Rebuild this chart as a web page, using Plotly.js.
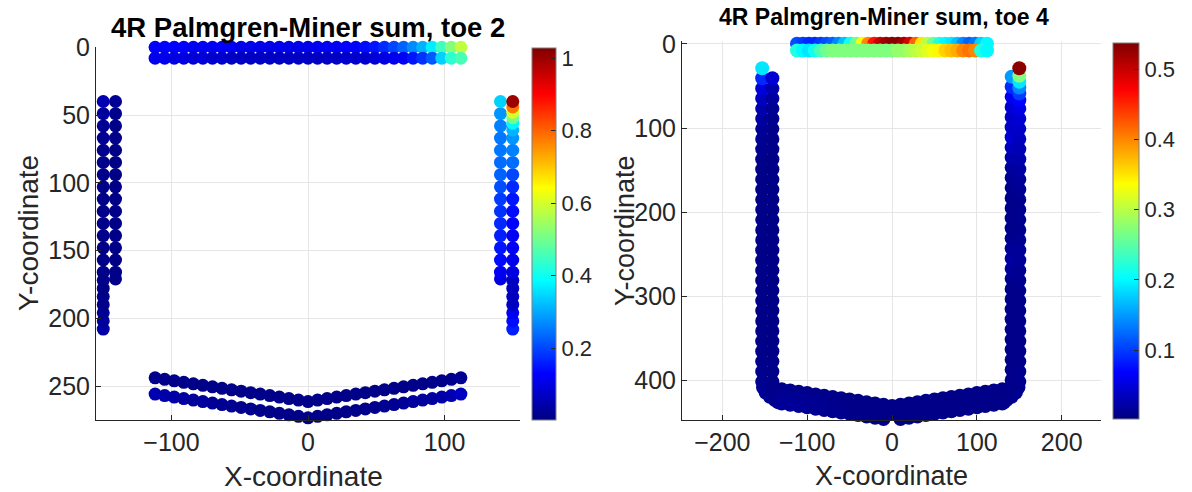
<!DOCTYPE html>
<html><head><meta charset="utf-8">
<script src="https://cdn.plot.ly/plotly-3.0.1.min.js"></script>
<style>html,body{margin:0;padding:0;background:#fff}#chart{width:1192px;height:492px}</style>
</head><body><div id="chart"></div>
<script>
// ---------- shared x positions of the horizontal rows ----------
const rowX = [-112,-105,-98,-91,-84,-77,-70,-63,-56,-49,-42,-35,-28,-21,-14,-7,0,7,14,21,28,35,42,49,56,63,70,77,84,91,98,105,112];
const rowY0 = [0,0,0,0,0,0,0,0,0,0,0,0,0,0,0,0,0,0,0,0,0,0,0,0,0,0,0,0,0,0,0,0,0];
const rowY8 = [8,8,8,8,8,8,8,8,8,8,8,8,8,8,8,8,8,8,8,8,8,8,8,8,8,8,8,8,8,8,8,8,8];

// ---------- toe 2 ----------
const t2TopAC = [0.13,0.13,0.13,0.13,0.12,0.12,0.12,0.12,0.12,0.11,0.11,0.11,0.11,0.11,0.11,0.11,0.11,0.12,0.12,0.12,0.13,0.13,0.14,0.15,0.17,0.2,0.23,0.27,0.31,0.37,0.45,0.52,0.58];
const t2TopBC = [0.11,0.11,0.1,0.1,0.09,0.09,0.08,0.08,0.07,0.07,0.07,0.07,0.07,0.07,0.07,0.07,0.07,0.07,0.07,0.07,0.08,0.08,0.08,0.09,0.1,0.11,0.12,0.15,0.18,0.22,0.34,0.43,0.46];

const t2LeftAX = [-150,-150,-150,-150,-150,-150,-150,-150,-150,-150,-150,-150,-150,-150,-150,-150,-150,-150,-150,-150,-150,-150];
const t2LeftAY = [208,202,196,190,184,178,172,166,157,148,139,130,121,112,103,94,85,76,67,58,49,40];
const t2LeftAC = [0.04,0.03,0.02,0.015,0.012,0.01,0.01,0.01,0.01,0.01,0.01,0.01,0.01,0.01,0.01,0.012,0.012,0.015,0.02,0.02,0.03,0.05];
const t2LeftBX = [-141,-141,-141,-141,-141,-141,-141,-141,-141,-141,-141,-141,-141,-141,-141,-141];
const colY16 = [171,166,157,148,139,130,121,112,103,94,85,76,67,58,49,40];
const t2LeftBC = [0.01,0.01,0.008,0.008,0.008,0.008,0.008,0.008,0.008,0.008,0.008,0.008,0.01,0.01,0.012,0.02];

const t2RightAX = [141,141,141,141,141,141,141,141,141,141,141,141,141,141,141,141];
const t2RightAC = [0.1,0.12,0.14,0.15,0.16,0.17,0.18,0.19,0.21,0.23,0.24,0.25,0.25,0.26,0.28,0.34];
const t2RightBX = [150,150,150,150,150,150,150,150,150,150,150,150,150,150,150,150,150,150,150,150,150,150,150,150,150];
const t2RightBY = [208,202,196,190,184,178,172,166,157,148,139,130,121,112,103,94,85,76,67,61,56,52,48,44,40];
const t2RightBC = [0.16,0.14,0.12,0.07,0.065,0.065,0.07,0.1,0.11,0.12,0.12,0.13,0.14,0.15,0.17,0.2,0.24,0.26,0.28,0.31,0.38,0.5,0.6,0.78,1.0];

const t2VAY = [244,245.1,246.2,247.3,248.4,249.5,250.6,251.7,252.8,253.8,254.9,256,257.1,258.2,259.3,260.4,261.5,260.4,259.3,258.2,257.1,256,254.9,253.8,252.8,251.7,250.6,249.5,248.4,247.3,246.2,245.1,244];
const t2VBY = [256,257.1,258.2,259.3,260.4,261.5,262.6,263.7,264.8,265.8,266.9,268,269.1,270.2,271.3,272.4,273.5,272.4,271.3,270.2,269.1,268,266.9,265.8,264.8,263.7,262.6,261.5,260.4,259.3,258.2,257.1,256];
const t2VAC = [0.015,0.012,0.01,0.01,0.01,0.01,0.01,0.01,0.01,0.01,0.01,0.01,0.01,0.01,0.01,0.01,0.01,0.01,0.01,0.01,0.01,0.01,0.01,0.01,0.01,0.01,0.01,0.01,0.01,0.01,0.012,0.015,0.02];
const t2VBC = [0.05,0.045,0.04,0.035,0.03,0.03,0.025,0.02,0.02,0.015,0.015,0.012,0.01,0.01,0.01,0.01,0.01,0.01,0.01,0.01,0.01,0.012,0.015,0.015,0.02,0.02,0.025,0.03,0.03,0.035,0.04,0.05,0.07];

// ---------- toe 4 ----------
const t4TopAC = [0.11,0.1,0.09,0.09,0.1,0.11,0.12,0.14,0.17,0.21,0.26,0.33,0.4,0.46,0.5,0.52,0.53,0.53,0.52,0.49,0.42,0.35,0.3,0.26,0.22,0.2,0.19,0.17,0.14,0.12,0.13,0.18,0.2];
const t4TopBC = [0.22,0.2,0.19,0.21,0.24,0.26,0.27,0.27,0.27,0.27,0.27,0.27,0.27,0.27,0.27,0.27,0.27,0.28,0.28,0.29,0.3,0.31,0.32,0.33,0.34,0.36,0.37,0.38,0.4,0.41,0.4,0.22,0.2];

const t4LeftOutX = [-153,-153,-153,-153,-153,-153,-153,-153,-153,-153,-153,-153,-153,-153,-153,-153,-153,-153,-153,-153,-153,-153,-153,-153,-153,-153,-153,-153,-153,-153,-153,-153];
const t4LeftOutY = [401,389,377,365,353,341,329,317,305,293,281,269,257,245,233,221,209,197,185,173,161,149,137,125,113,101,89,77,65,53,41,29];
const t4LeftOutC = [0.01,0.01,0.008,0.006,0.006,0.006,0.006,0.006,0.006,0.006,0.006,0.006,0.006,0.006,0.006,0.006,0.006,0.006,0.006,0.006,0.006,0.006,0.008,0.01,0.012,0.015,0.02,0.025,0.035,0.05,0.09,0.19];
const t4LeftInX = [-141,-141,-141,-141,-141,-141,-141,-141,-141,-141,-141,-141,-141,-141,-141,-141,-141,-141,-141,-141,-141,-141,-141,-141,-141,-141,-141,-141,-141,-141,-141];
const t4LeftInY = [401,389,377,365,353,341,329,317,305,293,281,269,257,245,233,221,209,197,185,173,161,149,137,125,113,101,89,77,65,53,41];
const t4LeftInC = [0.006,0.006,0.006,0.005,0.005,0.005,0.005,0.005,0.005,0.005,0.005,0.005,0.005,0.005,0.005,0.005,0.005,0.005,0.005,0.005,0.005,0.005,0.005,0.006,0.006,0.008,0.01,0.012,0.018,0.025,0.045];

const t4RightInX = [141,141,141,141,141,141,141,141,141,141,141,141,141,141,141,141,141,141,141,141,141,141,141,141,141,141,141,141,141,141,141];
const t4RightInY = [399,387,375,363,351,339,327,315,303,291,279,267,255,243,231,219,207,195,183,171,159,147,135,123,111,99,87,75,63,51,39];
const t4RightInC = [0.008,0.008,0.008,0.008,0.008,0.008,0.008,0.008,0.008,0.008,0.01,0.015,0.02,0.015,0.01,0.008,0.008,0.008,0.008,0.01,0.012,0.018,0.025,0.035,0.045,0.04,0.04,0.045,0.06,0.09,0.15];
const t4RightOutX = [150,150,150,150,150,150,150,150,150,150,150,150,150,150,150,150,150,150,150,150,150,150,150,150,150,150,150,150,150,150,150,150,150,150];
const t4RightOutY = [401,389,377,365,353,341,329,317,305,293,281,269,257,245,233,221,209,197,185,173,161,149,137,125,113,101,89,77,67,59,52,45,38,29];
const t4RightOutC = [0.01,0.01,0.008,0.008,0.008,0.008,0.008,0.008,0.008,0.008,0.01,0.012,0.015,0.015,0.012,0.01,0.01,0.01,0.01,0.012,0.015,0.02,0.025,0.03,0.035,0.04,0.045,0.055,0.07,0.1,0.14,0.19,0.27,0.53];

const t4CornerX = [-152,-149,-144,-138,-134,-141,-137,-134,-134,149,146,141,135,132,138,134,132,132];
const t4CornerY = [408,414,419,423,425.5,410,414,412,418,408,414,419,423,425.5,410,414,412,418];
const t4CornerC = [0.012,0.012,0.012,0.01,0.01,0.008,0.008,0.008,0.008,0.01,0.01,0.01,0.008,0.008,0.008,0.008,0.008,0.008];

const t4BotX = [-130,-120,-110,-100,-90,-80,-70,-60,-50,-40,-30,-20,-10,0,10,20,30,40,50,60,70,80,90,100,110,120,130];
const t4BotAY = [410,411.5,413.1,414.6,416.2,417.7,419.2,420.8,422.3,423.8,425.4,426.9,428.5,430,428.5,426.9,425.4,423.8,422.3,420.8,419.2,417.7,416.2,414.6,413.1,411.5,410];
const t4BotBY = [418.5,420,421.6,423.1,424.7,426.2,427.7,429.3,430.8,432.3,433.9,435.4,437,438.5,437,435.4,433.9,432.3,430.8,429.3,427.7,426.2,424.7,423.1,421.6,420,418.5];
const t4BotCY = [427,428.5,430.1,431.6,433.2,434.7,436.2,437.8,439.3,440.8,442.4,443.9,445.5,447,445.5,443.9,442.4,440.8,439.3,437.8,436.2,434.7,433.2,431.6,430.1,428.5,427];
const t4BotAC = [0.008,0.008,0.008,0.008,0.007,0.007,0.007,0.006,0.006,0.006,0.006,0.006,0.006,0.006,0.006,0.006,0.006,0.006,0.006,0.006,0.006,0.006,0.006,0.007,0.007,0.008,0.008];
const t4BotBC = [0.012,0.012,0.012,0.012,0.012,0.01,0.01,0.008,0.008,0.007,0.007,0.006,0.006,0.006,0.006,0.006,0.006,0.006,0.006,0.006,0.006,0.006,0.006,0.006,0.006,0.006,0.006];
const t4BotCC = [0.015,0.015,0.015,0.012,0.012,0.012,0.01,0.01,0.008,0.008,0.007,0.006,0.006,0.006,0.006,0.006,0.006,0.006,0.006,0.006,0.006,0.006,0.006,0.006,0.006,0.006,0.006];

// ---------- ticks / labels ----------
const t2XTicks = [-100,0,100];
const t2YTicks = [0,50,100,150,200,250];
const t4XTicks = [-200,-100,0,100,200];
const t4YTicks = [0,100,200,300,400];
const cb2Ticks = [0.2,0.4,0.6,0.8,1];
const cb4Ticks = [0.1,0.2,0.3,0.4,0.5];
const titles = ['4R Palmgren-Miner sum, toe 2','4R Palmgren-Miner sum, toe 4'];

// ---------- drawing ----------
const W = 1192, H = 492;
const FONT = 'Liberation Sans, Arial, Helvetica, sans-serif';
const jet = [[0,'rgb(0,0,128)'],[0.125,'rgb(0,0,255)'],[0.375,'rgb(0,255,255)'],[0.625,'rgb(255,255,0)'],[0.875,'rgb(255,0,0)'],[1,'rgb(128,0,0)']];
const px = v => v / W, py = v => (H - v) / H;

function tr(x, y, c, sub, size) {
  return {type:'scatter', mode:'markers', x:x, y:y,
    xaxis: sub === 1 ? 'x' : 'x2', yaxis: sub === 1 ? 'y' : 'y2',
    cliponaxis:false, hoverinfo:'skip', showlegend:false,
    marker:{color:c, coloraxis: sub === 1 ? 'coloraxis' : 'coloraxis2', size:size, line:{width:0}}};
}

const S2 = 13, S4 = 14;
const data = [
  tr(rowX, rowY0, t2TopAC, 1, S2),
  tr(rowX, rowY8, t2TopBC, 1, S2),
  tr(t2LeftAX, t2LeftAY, t2LeftAC, 1, S2),
  tr(t2LeftBX, colY16, t2LeftBC, 1, S2),
  tr(t2RightAX, colY16, t2RightAC, 1, S2),
  tr(t2RightBX, t2RightBY, t2RightBC, 1, S2),
  tr(rowX, t2VAY, t2VAC, 1, S2),
  tr(rowX, t2VBY, t2VBC, 1, S2),
  tr(t4LeftOutX, t4LeftOutY, t4LeftOutC, 2, S4),
  tr(t4LeftInX, t4LeftInY, t4LeftInC, 2, S4),
  tr(t4RightInX, t4RightInY, t4RightInC, 2, S4),
  tr(t4RightOutX, t4RightOutY, t4RightOutC, 2, S4),
  tr(t4CornerX, t4CornerY, t4CornerC, 2, S4),
  tr(t4BotX, t4BotAY, t4BotAC, 2, S4),
  tr(t4BotX, t4BotBY, t4BotBC, 2, S4),
  tr(t4BotX, t4BotCY, t4BotCC, 2, S4),
  tr(rowX, rowY0, t4TopAC, 2, S4),
  tr(rowX, rowY8, t4TopBC, 2, S4)
];

function axisCommon(size) {
  return {showgrid:true, gridcolor:'#e6e6e6', gridwidth:1, zeroline:false,
    showline:true, linecolor:'#262626', linewidth:1, mirror:false,
    ticks:'inside', ticklen:5, tickwidth:1, tickcolor:'#262626',
    tickfont:{family:FONT, size:size, color:'#262626'}, automargin:false, fixedrange:true};
}

function cb(x0, yb, yt, thick, ticks, size) {
  return {x:px(x0), xanchor:'left', xref:'paper', xpad:0,
    y:py(yb), yanchor:'bottom', yref:'paper', ypad:0,
    len:(yb - yt) / H, lenmode:'fraction', thickness:thick, thicknessmode:'pixels',
    outlinewidth:1, outlinecolor:'#7f7f7f',
    ticks:'inside', ticklen:5, tickwidth:1, tickcolor:'#262626',
    tickvals:ticks, tickfont:{family:FONT, size:size, color:'#262626'}};
}

function ann(text, x, y, size, opts) {
  return Object.assign({text:text, xref:'paper', yref:'paper', x:px(x), y:py(y),
    xanchor:'center', yanchor:'middle', showarrow:false,
    font:{family:FONT, size:size, color:'#262626'}}, opts || {});
}

const layout = {
  width:W, height:H, margin:{l:0, r:0, t:0, b:0},
  paper_bgcolor:'#ffffff', plot_bgcolor:'#ffffff', showlegend:false,
  xaxis: Object.assign(axisCommon(25), {domain:[px(96), px(520)], range:[-155.3, 155.3], tickvals:t2XTicks, anchor:'y'}),
  yaxis: Object.assign(axisCommon(25), {domain:[py(420), py(47.3)], range:[275.1, 0], tickvals:t2YTicks, anchor:'x'}),
  xaxis2: Object.assign(axisCommon(25), {domain:[px(682), px(1101)], range:[-247.5, 246.3], tickvals:t4XTicks, anchor:'y2'}),
  yaxis2: Object.assign(axisCommon(25), {domain:[py(420), py(41)], range:[446.6, -3.3], tickvals:t4YTicks, anchor:'x2'}),
  coloraxis: {colorscale:jet, cmin:0.002, cmax:1.028, colorbar:cb(532, 420, 48, 24, cb2Ticks, 22)},
  coloraxis2: {colorscale:jet, cmin:0.002, cmax:0.537, colorbar:cb(1113, 419, 43, 26, cb4Ticks, 22)},
  annotations: [
    ann('<b>' + titles[0] + '</b>', 308, 27, 27.5, {font:{family:FONT, size:27.5, color:'#000000'}}),
    ann('<b>' + titles[1] + '</b>', 884, 17, 23, {font:{family:FONT, size:23, color:'#000000'}}),
    ann('X-coordinate', 303, 476, 28),
    ann('X-coordinate', 891, 476, 27),
    ann('Y-coordinate', 28, 233, 28, {textangle:-90}),
    ann('Y-coordinate', 625, 231, 27, {textangle:-90})
  ]
};

Plotly.newPlot('chart', data, layout, {displayModeBar:false, staticPlot:true});
</script>
</body></html>
